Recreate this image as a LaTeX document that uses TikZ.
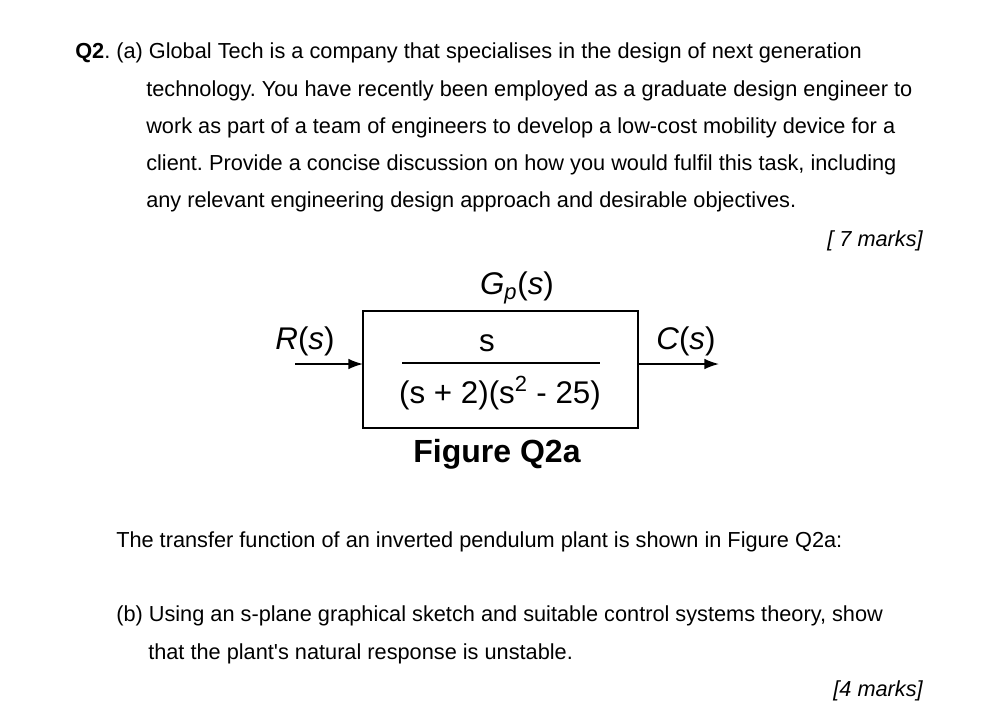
\documentclass[tikz,border=0pt]{standalone}
\usepackage{fontspec}
\setmainfont{Liberation Sans}
\usetikzlibrary{arrows.meta}
\frenchspacing
\begin{document}
\begin{tikzpicture}[x=0.75pt,y=-0.75pt,
  txt/.style={anchor=base west,inner sep=0pt,font=\fontsize{16.3}{18}\selectfont},
  big/.style={inner sep=0pt,font=\fontsize{23.5}{26}\selectfont},
  arr/.style={-{Latex[length=11pt,width=8pt]},line width=1.2pt}]
\useasboundingbox (0,0) rectangle (1003,704);
\node[txt] (l1) at (75,58) {\textbf{Q2}. (a) Global Tech is a company that specialises in the design of next generation};
\node[txt] (l2) at (146,96) {technology. You have recently been employed as a graduate design engineer to};
\node[txt] (l3) at (146,133) {work as part of a team of engineers to develop a low-cost mobility device for a};
\node[txt] (l4) at (146,170) {client. Provide a concise discussion on how you would fulfil this task, including};
\node[txt] (l5) at (146,207) {any relevant engineering design approach and desirable objectives.};
\node[txt,anchor=base east] (m1) at (923,246) {\itshape [ 7 marks]};
\draw[line width=1.2pt] (363,311) rectangle (638,428);
\node[big] (gp) at (517,288) {\itshape G\textsubscript{p}\upshape(\itshape s\upshape)};
\node[big] (r) at (305,341) {\itshape R\upshape(\itshape s\upshape)};
\node[big] (c) at (686,341) {\itshape C\upshape(\itshape s\upshape)};
\node[big] (num) at (487,343) {s};
\draw[line width=1.2pt] (402,363) -- (600,363);
\node[big] (den) at (500,393) {(s + 2)(s\textsuperscript{2} - 25)};
\node[big,font=\fontsize{24}{26}\selectfont\bfseries] (fig) at (497,454) {Figure Q2a};
\coordinate (ain) at (295,364);
\coordinate (bin) at (363,364);
\coordinate (aout) at (638,364);
\coordinate (bout) at (719,364);
\draw[arr] (ain) -- (bin);
\draw[arr] (aout) -- (bout);
\node[txt] (t1) at (116,547) {The transfer function of an inverted pendulum plant is shown in Figure Q2a:};
\node[txt] (t2) at (116,621) {(b) Using an s-plane graphical sketch and suitable control systems theory, show};
\node[txt] (t3) at (148,659) {that the plant\textquotesingle s natural response is unstable.};
\node[txt,anchor=base east] (m2) at (923,696) {\itshape [4 marks]};
\end{tikzpicture}
\end{document}
